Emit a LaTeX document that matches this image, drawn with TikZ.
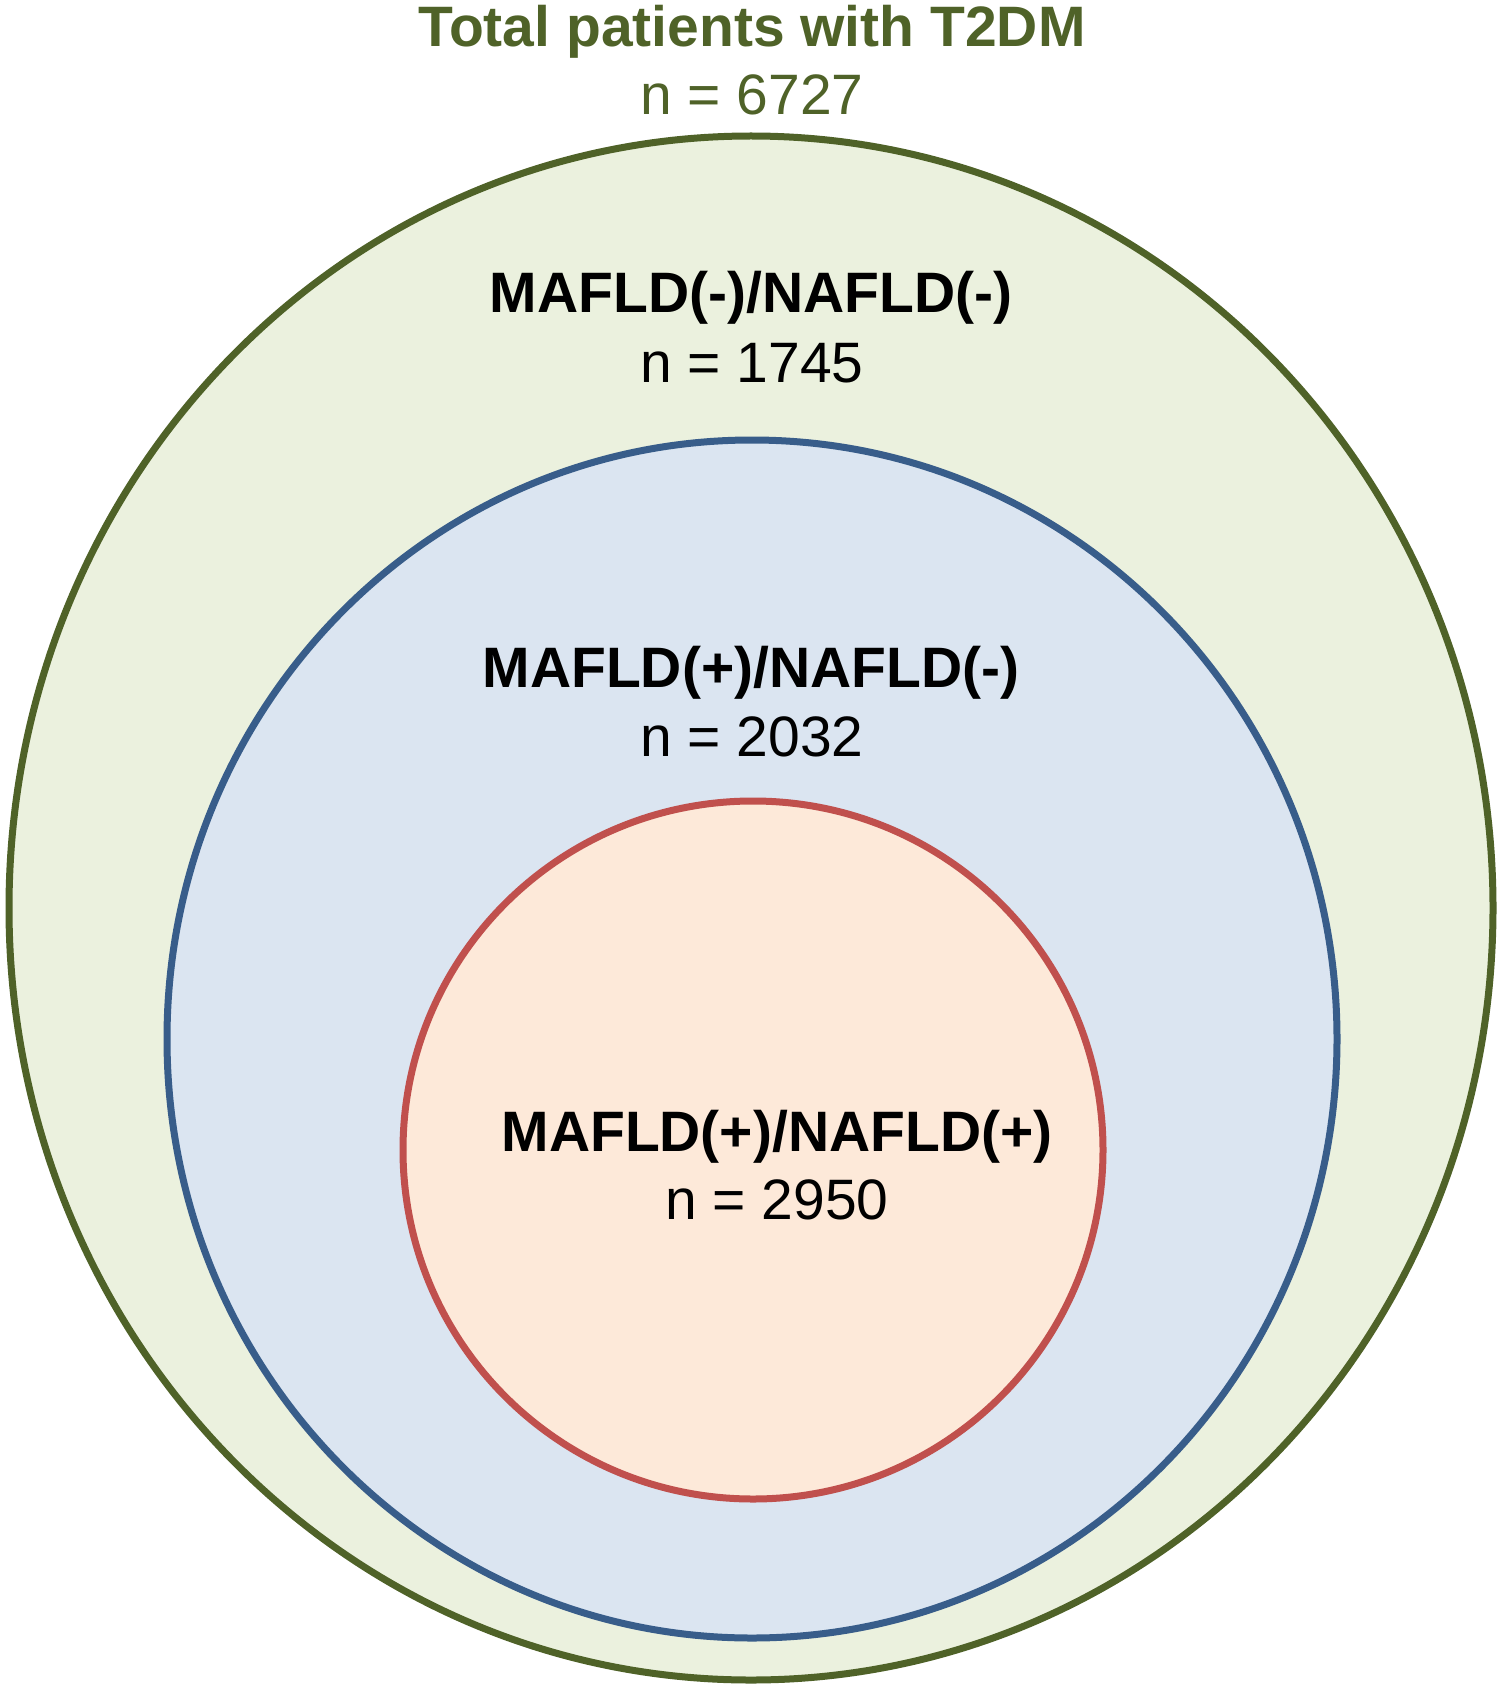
\documentclass[tikz,border=0pt]{standalone}
\usepackage{fontspec}
\setmainfont{Liberation Sans}
\definecolor{olivedk}{HTML}{4F6228}
\definecolor{olivelt}{HTML}{EBF1DE}
\definecolor{bluedk}{HTML}{385D8A}
\definecolor{bluelt}{HTML}{DBE5F1}
\definecolor{reddk}{HTML}{C0504D}
\definecolor{redlt}{HTML}{FDE9D9}

\begin{document}
\begin{tikzpicture}[x=0.5pt, y=-0.5pt,
  ring/.style={line width=3.5pt},
  grp/.style={font=\fontsize{28.5}{34}\selectfont\bfseries, anchor=base, inner sep=0pt},
  cnt/.style={font=\fontsize{28.5}{34}\selectfont, anchor=base, inner sep=0pt}]
  \useasboundingbox (0,0) rectangle (1500,1690);

  % outer: all T2DM patients
  \draw[ring, olivedk, fill=olivelt] (751,908) ellipse [x radius=742, y radius=772];
  % middle: MAFLD(+)
  \draw[ring, bluedk, fill=bluelt] (752,1039) ellipse [x radius=585, y radius=599];
  % inner: MAFLD(+)/NAFLD(+)
  \draw[ring, reddk, fill=redlt] (753,1150) ellipse [x radius=350, y radius=349];

  % Labels
  \node[grp, text=olivedk] (totT) at (752,47) {Total patients with T2DM};
  \node[cnt, text=olivedk] (totN) at (752,115) {n = 6727};

  \node[grp] (negT) at (751,313) {MAFLD(-)/NAFLD(-)};
  \node[cnt] (negN) at (752,382) {n = 1745};

  \node[grp] (mafT) at (751,687) {MAFLD(+)/NAFLD(-)};
  \node[cnt] (mafN) at (752,756) {n = 2032};

  \node[grp] (botT) at (777,1151) {MAFLD(+)/NAFLD(+)};
  \node[cnt] (botN) at (777,1219) {n = 2950};
\end{tikzpicture}
\end{document}
